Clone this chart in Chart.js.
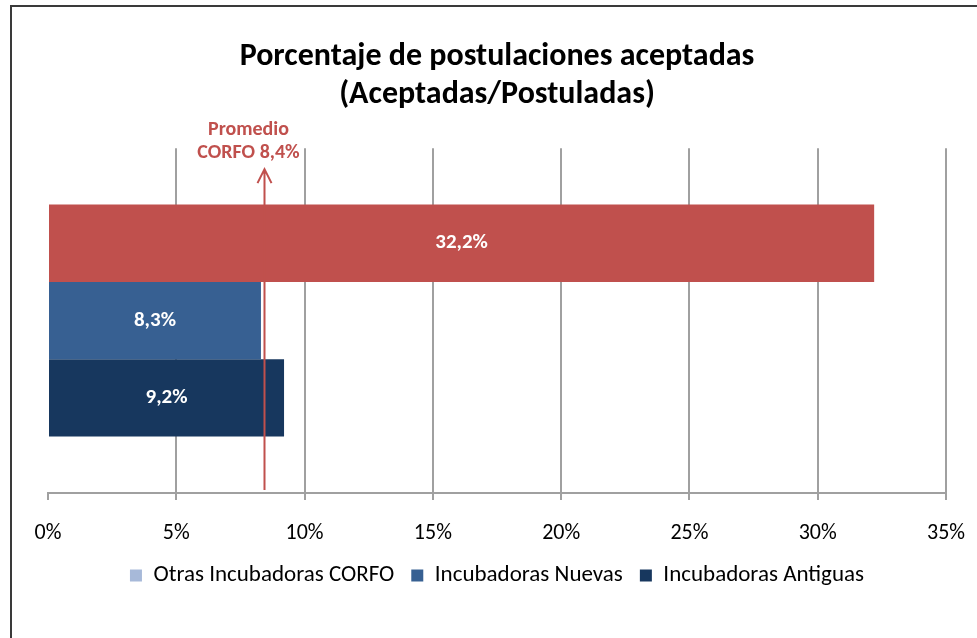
<!DOCTYPE html>
<html>
<head>
<meta charset="utf-8">
<script src="https://cdn.jsdelivr.net/npm/chart.js@4"></script>
<style>
  html, body { margin: 0; padding: 0; background: #fff; }
  #wrap { width: 977px; height: 638px; position: relative; }
</style>
</head>
<body>
<div id="wrap"><canvas id="chart" width="977" height="638"></canvas></div>
<script>
// values
const categories = [''];
const seriesNames = ['Otras Incubadoras CORFO', 'Incubadoras Nuevas', 'Incubadoras Antiguas'];
const seriesValues = [32.2, 8.3, 9.2];
const barColors = ['#c0504d', '#376092', '#17375e'];
const legendColors = ['#a7b9d9', '#376092', '#17375e'];
const averageValue = 8.4;
const averageLabel = ['Promedio', 'CORFO 8,4%'];
const titleLines = ['Porcentaje de postulaciones aceptadas', '(Aceptadas/Postuladas)'];
const axisMax = 35;
const axisStep = 5;

const GRAY = '#a0a0a0';
const RED = '#c0504d';

Chart.defaults.font.family = 'Carlito, Calibri, Lato, sans-serif';
Chart.defaults.color = '#000';

function pct(v) {
  return v.toFixed(1).replace('.', ',') + '%';
}

// frame, value labels and the average arrow
const extras = {
  id: 'extras',
  beforeDraw(chart) {
    const c = chart.ctx;
    c.save();
    c.fillStyle = '#fff';
    c.fillRect(0, 0, chart.width, chart.height);
    c.strokeStyle = '#3a3a3a';
    c.lineWidth = 2;
    c.strokeRect(11, 6, chart.width + 20, chart.height + 20);
    c.restore();
  },
  afterDatasetsDraw(chart) {
    const c = chart.ctx;
    const area = chart.chartArea;
    c.save();
    // labels inside bars
    c.fillStyle = '#fff';
    c.font = 'bold 21px ' + Chart.defaults.font.family;
    c.textAlign = 'center';
    c.textBaseline = 'middle';
    chart.data.datasets.forEach((ds, i) => {
      chart.getDatasetMeta(i).data.forEach((bar, j) => {
        const p = bar.getProps(['x', 'y', 'base'], true);
        c.fillText(pct(ds.data[j]), (p.x + p.base) / 2, p.y);
      });
    });
    // average arrow
    const x = Math.round(chart.scales.x.getPixelForValue(averageValue)) + 0.5;
    const top = area.top + 21;
    c.strokeStyle = RED;
    c.lineWidth = 2;
    c.beginPath();
    c.moveTo(x, area.bottom - 3);
    c.lineTo(x, top);
    c.moveTo(x - 7, top + 14);
    c.lineTo(x, top);
    c.lineTo(x + 7, top + 14);
    c.stroke();
    c.fillStyle = RED;
    c.font = 'bold 20px ' + Chart.defaults.font.family;
    c.fillText(averageLabel[0], x - 16, area.top - 18);
    c.fillText(averageLabel[1], x - 16, area.top + 5);
    c.restore();
  }
};

new Chart(document.getElementById('chart'), {
  type: 'bar',
  data: {
    labels: categories,
    datasets: seriesNames.map((name, i) => ({
      label: name,
      data: [seriesValues[i]],
      backgroundColor: barColors[i],
      borderWidth: 0,
      categoryPercentage: 0.673,
      barPercentage: 1
    }))
  },
  options: {
    indexAxis: 'y',
    responsive: false,
    animation: false,
    events: [],
    layout: { padding: { left: 48, right: 31, top: 0, bottom: 41 } },
    scales: {
      x: {
        min: 0,
        max: axisMax,
        ticks: {
          stepSize: axisStep,
          padding: 20,
          font: { size: 22 },
          color: '#000',
          callback: v => v + '%'
        },
        grid: {
          color: ctx => (ctx.tick && ctx.tick.value === 0 ? 'rgba(0,0,0,0)' : GRAY),
          tickColor: GRAY,
          lineWidth: 2,
          tickLength: 7
        },
        border: { color: GRAY, width: 2 },
        afterFit(scale) {
          // keep the plot edges at the layout padding, trim the space under the labels
          scale.paddingLeft = 0;
          scale.paddingRight = 0;
          scale.height = 54;
        }
      },
      y: { display: false }
    },
    plugins: {
      title: {
        display: true,
        text: titleLines,
        color: '#000',
        font: { size: 32, weight: 'bold', lineHeight: 1.19 },
        padding: { top: 38, bottom: 34 }
      },
      legend: {
        position: 'bottom',
        labels: {
          boxWidth: 12,
          boxHeight: 12,
          padding: 17,
          font: { size: 23 },
          color: '#000',
          generateLabels(chart) {
            return Chart.defaults.plugins.legend.labels.generateLabels(chart).map((l, i) => ({
              ...l,
              fillStyle: legendColors[i],
              strokeStyle: legendColors[i],
              lineWidth: 0
            }));
          }
        }
      },
      tooltip: { enabled: false }
    }
  },
  plugins: [extras]
});
</script>
</body>
</html>
